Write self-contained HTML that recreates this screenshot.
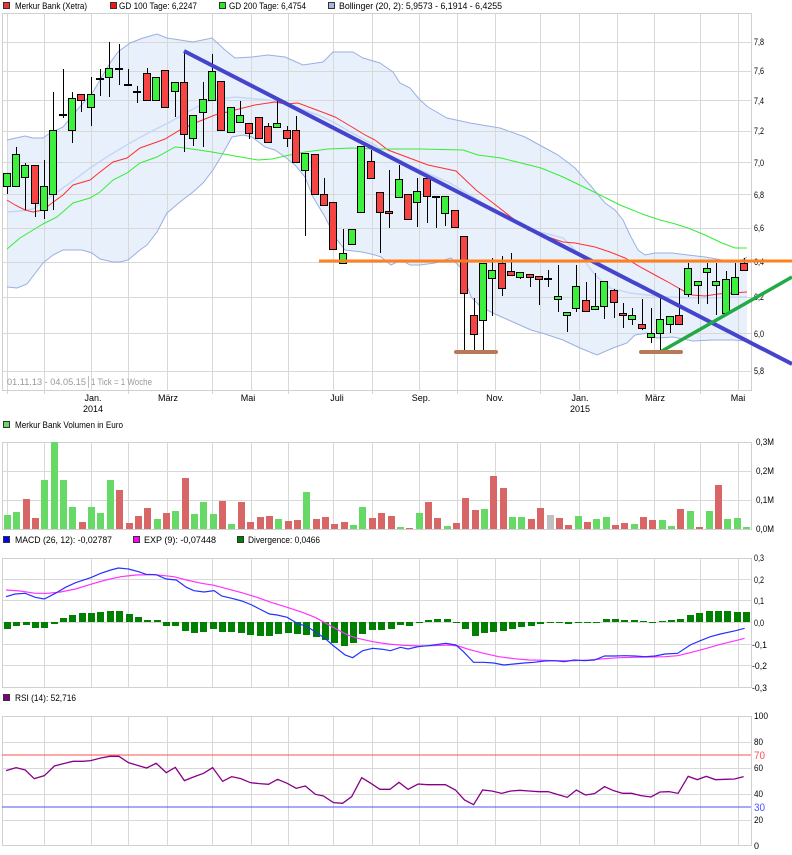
<!DOCTYPE html>
<html><head><meta charset="utf-8"><style>
html,body{margin:0;padding:0;background:#fff}
svg{display:block}
text{font-family:"Liberation Sans",sans-serif;font-size:9px;fill:#000}
.grid{stroke:#d8d8d8;stroke-width:1;fill:none}
.vg{fill:#66d966}.vr{fill:#d96666}
.cg{fill:#3ef03e;stroke:#000;stroke-width:1}
.cr{fill:#f44444;stroke:#000;stroke-width:1}
</style></head><body>
<svg width="792" height="855" viewBox="0 0 792 855" xmlns="http://www.w3.org/2000/svg">
<rect x="0" y="0" width="792" height="855" fill="#fff"/>

<!-- top legend -->
<rect x="3.5" y="2.5" width="6" height="6" fill="#ee3333" stroke="#333"/>
<text x="15" y="9" textLength="72" lengthAdjust="spacingAndGlyphs">Merkur Bank (Xetra)</text>
<rect x="110.5" y="2.5" width="6" height="6" fill="#ff1010" stroke="#333"/>
<text x="119" y="9" textLength="78" lengthAdjust="spacingAndGlyphs">GD 100 Tage: 6,2247</text>
<rect x="219.5" y="2.5" width="6" height="6" fill="#22ee22" stroke="#333"/>
<text x="229" y="9" textLength="77" lengthAdjust="spacingAndGlyphs">GD 200 Tage: 6,4754</text>
<rect x="328.5" y="2.5" width="6" height="6" fill="#a4b8e4" stroke="#333"/>
<text x="339" y="9" textLength="163" lengthAdjust="spacingAndGlyphs">Bollinger (20, 2): 5,9573 - 6,1914 - 6,4255</text>

<!-- Bollinger fill -->
<polygon fill="#e8f0fc" points="7,140 25,136 33,138 43,138 50,133 63,127 77,110 93,92 110,63 118,52 130,43 143,38 157,34 167,38 180,40 193,42 212,38 225,50 235,58 252,57 268,55 285,57 303,65 323,62 333,52 353,52 363,58 380,63 393,72 400,83 410,88 420,100 428,107 447,118 470,123 500,128 525,137 545,148 558,155 575,168 590,185 605,203 615,210 623,220 630,235 638,250 645,255 655,253 672,253 688,255 705,257 722,260 738,262 747,257 747,341 733,340 713,340 693,341 673,337 657,338 647,333 635,335 627,343 613,348 597,355 580,348 563,340 545,334 531,330 513,322 495,314 481,307 471,297 461,268 451,258 435,263 420,265 410,265 401,260 391,265 381,257 375,255 362,252 345,250 335,237 325,217 313,197 305,177 295,165 285,157 275,150 265,147 252,137 243,135 232,137 222,155 213,170 203,183 193,192 180,202 167,213 157,232 147,245 140,250 128,260 120,262 113,262 100,259 92,253 82,250 73,250 63,250 53,255 43,263 27,284 17,288 7,287"/>

<!-- main grid -->
<path class="grid" d="M7.5 13V394M44.5 13V394M91.5 13V390M128.5 13V394M167.5 13V390M212.5 13V394M251.5 13V390M288.5 13V394M333.5 13V390M372.5 13V394M419.5 13V390M457.5 13V394M495.5 13V390M540.5 13V394M579.5 13V390M617.5 13V394M654.5 13V390M700.5 13V394M738.5 13V390M2 42.5H751M2 71.5H751M2 100.5H751M2 131.5H751M2 162.5H751M2 194.5H751M2 228.5H751M2 262.5H751M2 297.5H751M2 333.5H751M2 371.5H751"/>
<rect x="2.5" y="13.5" width="749" height="377" fill="none" stroke="#d0d0d0"/>

<!-- band lines -->
<polyline fill="none" stroke="#9ab0e0" stroke-width="1" points="7,140 25,136 33,138 43,138 50,133 63,127 77,110 93,92 110,63 118,52 130,43 143,38 157,34 167,38 180,40 193,42 212,38 225,50 235,58 252,57 268,55 285,57 303,65 323,62 333,52 353,52 363,58 380,63 393,72 400,83 410,88 420,100 428,107 447,118 470,123 500,128 525,137 545,148 558,155 575,168 590,185 605,203 615,210 623,220 630,235 638,250 645,255 655,253 672,253 688,255 705,257 722,260 738,262 747,257"/>
<polyline fill="none" stroke="#9ab0e0" stroke-width="1" points="7,287 17,288 27,284 43,263 53,255 63,250 73,250 82,250 92,253 100,259 113,262 120,262 128,260 140,250 147,245 157,232 167,213 180,202 193,192 203,183 213,170 222,155 232,137 243,135 252,137 265,147 275,150 285,157 295,165 305,177 313,197 325,217 335,237 345,250 362,252 375,255 381,257 391,265 401,260 410,265 420,265 435,263 451,258 461,268 471,297 481,307 495,314 513,322 531,330 545,334 563,340 580,348 597,355 613,348 627,343 635,335 647,333 657,338 673,337 693,341 713,340 733,340 747,341"/>
<polyline fill="none" stroke="#c4d8f6" stroke-width="1.5" points="7,212 20,211 33,209 53,195 70,183 90,168 110,155 130,143 150,132 170,122 195,108 212,100 235,97 268,100 282,103 298,108 318,115 335,123 352,133 365,140 375,145 390,158 420,170 450,183 470,195 490,208 511,220 530,230 548,234 563,238 580,255 595,275 610,288 630,293 665,297 700,298 747,297"/>
<!-- GD100 -->
<polyline fill="none" stroke="#ff3030" stroke-width="1" points="7,200 15,205 25,210 33,212 43,210 52,203 63,195 73,185 90,180 100,172 113,162 127,158 140,148 157,142 165,139 180,130 195,123 215,115 235,110 255,105 275,102 285,104 298,103 322,112 335,117 352,127 365,135 375,140 388,150 428,165 456,171 476,190 493,203 511,217 528,230 548,237 563,242 575,243 595,247 610,252 625,258 642,268 655,275 668,282 682,290 692,295 705,296 718,294 732,293 747,292"/>
<!-- GD200 -->
<polyline fill="none" stroke="#33ee33" stroke-width="1" points="7,249 20,238 33,230 43,224 57,217 73,203 90,198 100,192 113,180 127,173 140,163 157,157 175,147 185,148 212,152 235,156 258,160 272,159 285,156 305,152 328,149 352,148 375,149 420,149 463,150 478,155 501,158 521,163 541,168 563,177 590,190 620,205 645,215 660,220 672,223 688,228 705,235 722,243 735,248 747,248"/>

<!-- candles -->
<g shape-rendering="crispEdges">
<path fill="none" stroke="#000" stroke-width="1" d="M7.5 173V194M16.5 147V186M25.5 163V210M35.5 165V217M44.5 160V219M53.5 92V210M63.5 69V118M72.5 92V143M81.5 94V112M91.5 77V126M100.5 69V96M109.5 42V97M119.5 44V85M128.5 69V85M137.5 86V103M147.5 68V100M156.5 77V100M165.5 70V107M175.5 82V117M184.5 51V152M193.5 115V146M203.5 82V147M212.5 54V100M221.5 81V130M231.5 107V132M240.5 101V122M249.5 123V139M259.5 117V138M268.5 123V142M277.5 101V127M287.5 126V147M296.5 116V162M305.5 153V236M315.5 154V194M324.5 178V205M333.5 202V249M343.5 229V263M352.5 229V244M361.5 146V212M371.5 150V178M380.5 192V253M389.5 170V228M399.5 165V197M408.5 194V219M417.5 178V227M427.5 178V223M436.5 197V228M445.5 196V226M455.5 210V227M464.5 236V350M474.5 298V350M483.5 263V350M492.5 258V316M502.5 256V296M511.5 253V275M520.5 272V279M530.5 274V287M539.5 277V305M548.5 270V287M558.5 265V312M567.5 312V332M576.5 265V312M586.5 282V311M595.5 273V309M604.5 281V319M614.5 289V318M623.5 303V328M632.5 308V325M642.5 299V330M651.5 308V343M660.5 298V352M670.5 316V333M679.5 288V324M688.5 263V297M698.5 281V304M707.5 263V304M716.5 263V315M726.5 271V313M735.5 263V294M744.5 258V270"/>
<g fill="#000">
<rect x="59" y="114" width="8" height="2"/><rect x="96" y="78" width="8" height="2"/><rect x="115" y="68" width="8" height="2"/><rect x="124" y="84" width="8" height="2"/><rect x="133" y="91" width="8" height="2"/><rect x="432" y="196" width="8" height="2"/><rect x="544" y="278" width="8" height="2"/>
</g>
<g class="cg">
<rect x="3.5" y="173.5" width="7" height="13"/><rect x="12.5" y="154.5" width="7" height="32"/><rect x="21.5" y="165.5" width="7" height="12"/><rect x="40.5" y="186.5" width="7" height="24"/><rect x="49.5" y="130.5" width="7" height="64"/><rect x="68.5" y="98.5" width="7" height="32"/><rect x="87.5" y="94.5" width="7" height="13"/><rect x="105.5" y="68.5" width="7" height="9"/><rect x="152.5" y="77.5" width="7" height="23"/><rect x="171.5" y="82.5" width="7" height="9"/><rect x="189.5" y="115.5" width="7" height="23"/><rect x="199.5" y="99.5" width="7" height="13"/><rect x="208.5" y="71.5" width="7" height="29"/><rect x="227.5" y="107.5" width="7" height="25"/><rect x="236.5" y="115.5" width="7" height="7"/><rect x="273.5" y="123.5" width="7" height="4"/><rect x="301.5" y="153.5" width="7" height="17"/><rect x="339.5" y="253.5" width="7" height="10"/><rect x="348.5" y="229.5" width="7" height="15"/><rect x="357.5" y="146.5" width="7" height="66"/><rect x="395.5" y="179.5" width="7" height="18"/><rect x="413.5" y="191.5" width="7" height="11"/><rect x="441.5" y="196.5" width="7" height="17"/><rect x="479.5" y="263.5" width="7" height="57"/><rect x="488.5" y="270.5" width="7" height="8"/><rect x="516.5" y="272.5" width="7" height="5"/><rect x="554.5" y="296.5" width="7" height="3"/><rect x="563.5" y="312.5" width="7" height="3"/><rect x="572.5" y="286.5" width="7" height="22"/><rect x="591.5" y="306.5" width="7" height="3"/><rect x="600.5" y="281.5" width="7" height="25"/><rect x="628.5" y="315.5" width="7" height="4"/><rect x="647.5" y="333.5" width="7" height="4"/><rect x="656.5" y="319.5" width="7" height="14"/><rect x="666.5" y="316.5" width="7" height="8"/><rect x="684.5" y="268.5" width="7" height="26"/><rect x="694.5" y="281.5" width="7" height="4"/><rect x="703.5" y="268.5" width="7" height="4"/><rect x="712.5" y="281.5" width="7" height="4"/><rect x="722.5" y="279.5" width="7" height="34"/><rect x="731.5" y="277.5" width="7" height="17"/>
</g>
<g class="cr">
<rect x="31.5" y="165.5" width="7" height="38"/><rect x="77.5" y="94.5" width="7" height="6"/><rect x="143.5" y="73.5" width="7" height="27"/><rect x="161.5" y="70.5" width="7" height="37"/><rect x="180.5" y="82.5" width="7" height="52"/><rect x="217.5" y="81.5" width="7" height="49"/><rect x="245.5" y="123.5" width="7" height="10"/><rect x="255.5" y="117.5" width="7" height="21"/><rect x="264.5" y="126.5" width="7" height="16"/><rect x="283.5" y="130.5" width="7" height="8"/><rect x="292.5" y="130.5" width="7" height="32"/><rect x="311.5" y="154.5" width="7" height="40"/><rect x="320.5" y="194.5" width="7" height="11"/><rect x="329.5" y="202.5" width="7" height="47"/><rect x="367.5" y="161.5" width="7" height="17"/><rect x="376.5" y="192.5" width="7" height="20"/><rect x="385.5" y="211.5" width="7" height="2"/><rect x="404.5" y="194.5" width="7" height="25"/><rect x="423.5" y="178.5" width="7" height="18"/><rect x="451.5" y="210.5" width="7" height="17"/><rect x="460.5" y="236.5" width="7" height="57"/><rect x="470.5" y="315.5" width="7" height="19"/><rect x="498.5" y="263.5" width="7" height="25"/><rect x="507.5" y="271.5" width="7" height="4"/><rect x="526.5" y="274.5" width="7" height="3"/><rect x="535.5" y="276.5" width="7" height="3"/><rect x="582.5" y="300.5" width="7" height="11"/><rect x="610.5" y="290.5" width="7" height="12"/><rect x="619.5" y="313.5" width="7" height="2"/><rect x="638.5" y="324.5" width="7" height="4"/><rect x="675.5" y="315.5" width="7" height="9"/><rect x="740.5" y="263.5" width="7" height="7"/>
</g>
</g>

<!-- main axis labels -->
<g>
<text x="754" y="45" textLength="10" lengthAdjust="spacingAndGlyphs">7,8</text>
<text x="754" y="74" textLength="10" lengthAdjust="spacingAndGlyphs">7,6</text>
<text x="754" y="104" textLength="10" lengthAdjust="spacingAndGlyphs">7,4</text>
<text x="754" y="134" textLength="10" lengthAdjust="spacingAndGlyphs">7,2</text>
<text x="754" y="166" textLength="10" lengthAdjust="spacingAndGlyphs">7,0</text>
<text x="754" y="198" textLength="10" lengthAdjust="spacingAndGlyphs">6,8</text>
<text x="754" y="231" textLength="10" lengthAdjust="spacingAndGlyphs">6,6</text>
<text x="754" y="265" textLength="10" lengthAdjust="spacingAndGlyphs">6,4</text>
<text x="754" y="300" textLength="10" lengthAdjust="spacingAndGlyphs">6,2</text>
<text x="754" y="337" textLength="10" lengthAdjust="spacingAndGlyphs">6,0</text>
<text x="754" y="374" textLength="10" lengthAdjust="spacingAndGlyphs">5,8</text>
</g>

<!-- trend lines -->
<line x1="184" y1="51" x2="792" y2="364" stroke="#4444cc" stroke-width="4"/>
<line x1="319" y1="261" x2="792" y2="261" stroke="#ff8020" stroke-width="3"/>
<line x1="662" y1="351" x2="792" y2="277" stroke="#22aa44" stroke-width="3.5"/>
<line x1="456" y1="352" x2="496" y2="352" stroke="#b87a56" stroke-width="4" stroke-linecap="round"/>
<line x1="641" y1="352" x2="681" y2="352" stroke="#b87a56" stroke-width="4" stroke-linecap="round"/>

<!-- info + x labels -->
<text x="7" y="385" fill="#999" style="fill:#999" textLength="79" lengthAdjust="spacingAndGlyphs">01.11.13 - 04.05.15</text>
<line x1="88.5" y1="376" x2="88.5" y2="388" stroke="#bbb"/>
<text x="91" y="385" style="fill:#999" textLength="61" lengthAdjust="spacingAndGlyphs">1 Tick = 1 Woche</text>
<g text-anchor="middle">
<text x="93" y="401">Jan.</text><text x="93" y="412">2014</text>
<text x="168" y="401">März</text>
<text x="248" y="401">Mai</text>
<text x="337" y="401">Juli</text>
<text x="421" y="401">Sep.</text>
<text x="495" y="401">Nov.</text>
<text x="580" y="401">Jan.</text><text x="580" y="412">2015</text>
<text x="655" y="401">März</text>
<text x="738" y="401">Mai</text>
</g>

<!-- volume -->
<rect x="3.5" y="421.5" width="6" height="6" fill="#66d966" stroke="#333"/>
<text x="15" y="428" textLength="108" lengthAdjust="spacingAndGlyphs">Merkur Bank Volumen in Euro</text>
<path class="grid" d="M7.5 442V529M44.5 442V529M91.5 442V529M128.5 442V529M167.5 442V529M212.5 442V529M251.5 442V529M288.5 442V529M333.5 442V529M372.5 442V529M419.5 442V529M457.5 442V529M495.5 442V529M540.5 442V529M579.5 442V529M617.5 442V529M654.5 442V529M700.5 442V529M738.5 442V529M2 471.5H751M2 500.5H751"/>
<rect x="2.5" y="442.5" width="749" height="87" fill="none" stroke="#d0d0d0"/>
<g shape-rendering="crispEdges">
<g class="vg">
<rect x="4" y="515" width="7" height="14"/><rect x="13" y="512" width="7" height="17"/><rect x="41" y="480" width="7" height="49"/><rect x="51" y="442" width="7" height="87"/><rect x="60" y="480" width="7" height="49"/><rect x="69" y="507" width="7" height="22"/><rect x="88" y="507" width="7" height="22"/><rect x="97" y="513" width="7" height="16"/><rect x="107" y="480" width="7" height="49"/><rect x="154" y="519" width="7" height="10"/><rect x="172" y="511" width="7" height="18"/><rect x="191" y="514" width="7" height="15"/><rect x="200" y="502" width="7" height="27"/><rect x="210" y="514" width="7" height="15"/><rect x="228" y="524" width="7" height="5"/><rect x="275" y="519" width="7" height="10"/><rect x="303" y="492" width="7" height="37"/><rect x="350" y="525" width="7" height="4"/><rect x="359" y="507" width="7" height="22"/><rect x="397" y="527" width="7" height="2"/><rect x="416" y="513" width="7" height="16"/><rect x="444" y="526" width="7" height="3"/><rect x="481" y="509" width="7" height="20"/><rect x="509" y="517" width="7" height="12"/><rect x="518" y="517" width="7" height="12"/><rect x="575" y="516" width="7" height="13"/><rect x="593" y="519" width="7" height="10"/><rect x="603" y="517" width="7" height="12"/><rect x="631" y="524" width="7" height="5"/><rect x="659" y="520" width="7" height="9"/><rect x="668" y="526" width="7" height="3"/><rect x="687" y="511" width="7" height="18"/><rect x="706" y="511" width="7" height="18"/><rect x="724" y="519" width="7" height="10"/><rect x="734" y="518" width="7" height="11"/><rect x="743" y="527" width="7" height="2"/>
</g>
<g class="vr">
<rect x="23" y="499" width="7" height="30"/><rect x="32" y="518" width="7" height="11"/><rect x="79" y="522" width="7" height="7"/><rect x="116" y="490" width="7" height="39"/><rect x="126" y="523" width="7" height="6"/><rect x="135" y="516" width="7" height="13"/><rect x="144" y="508" width="7" height="21"/><rect x="163" y="513" width="7" height="16"/><rect x="182" y="478" width="7" height="51"/><rect x="219" y="501" width="7" height="28"/><rect x="238" y="502" width="7" height="27"/><rect x="247" y="522" width="7" height="7"/><rect x="257" y="517" width="7" height="12"/><rect x="266" y="516" width="7" height="13"/><rect x="285" y="521" width="7" height="8"/><rect x="294" y="520" width="7" height="9"/><rect x="313" y="519" width="7" height="10"/><rect x="322" y="517" width="7" height="12"/><rect x="331" y="524" width="7" height="5"/><rect x="341" y="522" width="7" height="7"/><rect x="369" y="518" width="7" height="11"/><rect x="378" y="513" width="7" height="16"/><rect x="388" y="516" width="7" height="13"/><rect x="406" y="528" width="7" height="1"/><rect x="425" y="502" width="7" height="27"/><rect x="434" y="518" width="7" height="11"/><rect x="453" y="523" width="7" height="6"/><rect x="462" y="498" width="7" height="31"/><rect x="472" y="510" width="7" height="19"/><rect x="490" y="476" width="7" height="53"/><rect x="500" y="488" width="7" height="41"/><rect x="528" y="519" width="7" height="10"/><rect x="537" y="508" width="7" height="21"/><rect x="556" y="518" width="7" height="11"/><rect x="565" y="525" width="7" height="4"/><rect x="584" y="522" width="7" height="7"/><rect x="612" y="525" width="7" height="4"/><rect x="621" y="523" width="7" height="6"/><rect x="640" y="517" width="7" height="12"/><rect x="649" y="520" width="7" height="9"/><rect x="677" y="509" width="7" height="20"/><rect x="696" y="527" width="7" height="2"/><rect x="715" y="485" width="7" height="44"/>
</g>
<rect x="547" y="515" width="7" height="14" fill="#c0c0c0"/>
</g>
<text x="756" y="445" textLength="18" lengthAdjust="spacingAndGlyphs">0,3M</text>
<text x="756" y="474" textLength="18" lengthAdjust="spacingAndGlyphs">0,2M</text>
<text x="756" y="503" textLength="18" lengthAdjust="spacingAndGlyphs">0,1M</text>
<text x="756" y="532" textLength="18" lengthAdjust="spacingAndGlyphs">0,0M</text>

<!-- MACD -->
<rect x="3.5" y="536.5" width="6" height="6" fill="#0000ff" stroke="#333"/>
<text x="15" y="543" textLength="97" lengthAdjust="spacingAndGlyphs">MACD (26, 12): -0,02787</text>
<rect x="133.5" y="536.5" width="6" height="6" fill="#ff00ff" stroke="#333"/>
<text x="144" y="543" textLength="72" lengthAdjust="spacingAndGlyphs">EXP (9): -0,07448</text>
<rect x="237.5" y="536.5" width="6" height="6" fill="#008000" stroke="#333"/>
<text x="248" y="543" textLength="72" lengthAdjust="spacingAndGlyphs">Divergence: 0,0466</text>
<path class="grid" d="M44.5 558V687M91.5 558V687M128.5 558V687M167.5 558V687M212.5 558V687M251.5 558V687M288.5 558V687M333.5 558V687M372.5 558V687M419.5 558V687M457.5 558V687M495.5 558V687M540.5 558V687M579.5 558V687M617.5 558V687M654.5 558V687M700.5 558V687M738.5 558V687M2 579.5H751M2 600.5H751M2 622.5H751M2 644.5H751M2 665.5H751"/>
<rect x="2.5" y="558.5" width="749" height="129" fill="none" stroke="#d0d0d0"/>
<g fill="#008000" shape-rendering="crispEdges">
<rect x="4" y="622" width="7" height="7"/><rect x="13" y="622" width="7" height="4"/><rect x="23" y="622" width="7" height="3"/><rect x="32" y="622" width="7" height="6"/><rect x="41" y="622" width="7" height="6"/><rect x="51" y="622" width="7" height="2"/><rect x="60" y="618" width="7" height="4"/><rect x="69" y="615" width="7" height="7"/><rect x="79" y="613" width="7" height="9"/><rect x="88" y="613" width="7" height="9"/><rect x="97" y="612" width="7" height="10"/><rect x="107" y="611" width="7" height="11"/><rect x="116" y="611" width="7" height="11"/><rect x="126" y="614" width="7" height="8"/><rect x="135" y="617" width="7" height="5"/><rect x="144" y="620" width="7" height="2"/><rect x="154" y="620" width="7" height="2"/><rect x="163" y="622" width="7" height="4"/><rect x="172" y="622" width="7" height="4"/><rect x="182" y="622" width="7" height="9"/><rect x="191" y="622" width="7" height="11"/><rect x="200" y="622" width="7" height="10"/><rect x="210" y="622" width="7" height="7"/><rect x="219" y="622" width="7" height="10"/><rect x="228" y="622" width="7" height="10"/><rect x="238" y="622" width="7" height="11"/><rect x="247" y="622" width="7" height="13"/><rect x="257" y="622" width="7" height="14"/><rect x="266" y="622" width="7" height="14"/><rect x="275" y="622" width="7" height="12"/><rect x="285" y="622" width="7" height="11"/><rect x="294" y="622" width="7" height="12"/><rect x="303" y="622" width="7" height="13"/><rect x="313" y="622" width="7" height="15"/><rect x="322" y="622" width="7" height="18"/><rect x="331" y="622" width="7" height="21"/><rect x="341" y="622" width="7" height="24"/><rect x="350" y="622" width="7" height="21"/><rect x="359" y="622" width="7" height="12"/><rect x="369" y="622" width="7" height="8"/><rect x="378" y="622" width="7" height="8"/><rect x="388" y="622" width="7" height="7"/><rect x="397" y="622" width="7" height="3"/><rect x="406" y="622" width="7" height="4"/><rect x="416" y="622" width="7" height="1"/><rect x="425" y="620" width="7" height="2"/><rect x="434" y="619" width="7" height="3"/><rect x="444" y="619" width="7" height="3"/><rect x="453" y="622" width="7" height="1"/><rect x="462" y="622" width="7" height="7"/><rect x="472" y="622" width="7" height="14"/><rect x="481" y="622" width="7" height="11"/><rect x="490" y="622" width="7" height="10"/><rect x="500" y="622" width="7" height="9"/><rect x="509" y="622" width="7" height="7"/><rect x="518" y="622" width="7" height="5"/><rect x="528" y="622" width="7" height="4"/><rect x="537" y="622" width="7" height="2"/><rect x="547" y="622" width="7" height="1"/><rect x="556" y="622" width="7" height="1"/><rect x="565" y="622" width="7" height="2"/><rect x="575" y="622" width="7" height="1"/><rect x="584" y="622" width="7" height="1"/><rect x="593" y="622" width="7" height="1"/><rect x="603" y="619" width="7" height="3"/><rect x="612" y="619" width="7" height="3"/><rect x="621" y="620" width="7" height="2"/><rect x="631" y="620" width="7" height="2"/><rect x="640" y="621" width="7" height="1"/><rect x="649" y="622" width="7" height="1"/><rect x="659" y="621" width="7" height="1"/><rect x="668" y="620" width="7" height="2"/><rect x="677" y="619" width="7" height="3"/><rect x="687" y="615" width="7" height="7"/><rect x="696" y="613" width="7" height="9"/><rect x="706" y="611" width="7" height="11"/><rect x="715" y="611" width="7" height="11"/><rect x="724" y="611" width="7" height="11"/><rect x="734" y="612" width="7" height="10"/><rect x="743" y="612" width="7" height="10"/>
</g>
<g transform="matrix(0.5038 0 0 0.33333 0 530)" fill="none">
<polyline vector-effect="non-scaling-stroke" stroke="#ff33ff" stroke-width="1.2" points="12,180 40,183 70,190 95,190 120,186 150,177 180,163 210,150 240,140 270,135 300,134 320,136 345,140 370,150 400,160 425,166 450,176 480,188 510,202 540,218 570,232 600,247 625,262 645,278 665,295 690,315 710,325 740,335 770,342 800,346 830,348 860,347 890,345 910,348 930,358 960,370 990,380 1020,386 1050,390 1080,391 1110,392 1140,392 1170,390 1200,386 1230,383 1260,382 1290,381 1320,380 1345,377 1370,368 1400,356 1430,343 1460,332 1478,325"/>
<polyline vector-effect="non-scaling-stroke" stroke="#2233ff" stroke-width="1.2" points="12,200 30,192 50,190 70,202 88,207 110,190 130,172 150,158 180,143 200,130 220,120 235,114 255,117 275,125 290,133 310,134 330,147 350,150 370,172 385,182 405,186 425,182 440,198 460,205 480,213 500,225 515,237 535,252 550,255 570,262 590,280 610,290 625,305 645,325 660,345 685,375 700,383 720,362 740,355 760,358 775,362 795,352 810,357 830,350 850,347 870,343 885,340 905,345 920,365 940,397 960,397 980,399 1000,405 1020,402 1040,399 1060,397 1080,393 1100,392 1120,395 1140,390 1160,392 1180,390 1200,378 1220,378 1240,377 1260,378 1280,380 1300,378 1320,372 1345,370 1370,345 1390,332 1410,320 1430,312 1460,302 1478,295"/>
</g>
<text x="754" y="561" textLength="10" lengthAdjust="spacingAndGlyphs">0,3</text>
<text x="754" y="583" textLength="10" lengthAdjust="spacingAndGlyphs">0,2</text>
<text x="754" y="604" textLength="10" lengthAdjust="spacingAndGlyphs">0,1</text>
<text x="754" y="626" textLength="10" lengthAdjust="spacingAndGlyphs">0,0</text>
<text x="752" y="648" textLength="15" lengthAdjust="spacingAndGlyphs">-0,1</text>
<text x="752" y="669" textLength="15" lengthAdjust="spacingAndGlyphs">-0,2</text>
<text x="752" y="691" textLength="15" lengthAdjust="spacingAndGlyphs">-0,3</text>

<!-- RSI -->
<rect x="3.5" y="694.5" width="6" height="6" fill="#800080" stroke="#333"/>
<text x="15" y="701" textLength="61" lengthAdjust="spacingAndGlyphs">RSI (14): 52,716</text>
<path class="grid" d="M44.5 716V846M91.5 716V846M128.5 716V846M167.5 716V846M212.5 716V846M251.5 716V846M288.5 716V846M333.5 716V846M372.5 716V846M419.5 716V846M457.5 716V846M495.5 716V846M540.5 716V846M579.5 716V846M617.5 716V846M654.5 716V846M700.5 716V846M738.5 716V846M2 742.5H751M2 768.5H751M2 794.5H751M2 820.5H751"/>
<rect x="2.5" y="716.5" width="749" height="129" fill="none" stroke="#d0d0d0"/>
<line x1="2" y1="755" x2="751" y2="755" stroke="#ff5050" stroke-width="1"/>
<line x1="2" y1="807" x2="751" y2="807" stroke="#5050ff" stroke-width="1"/>
<g transform="matrix(0.5038 0 0 0.33333 0 530)" fill="none">
<polyline vector-effect="non-scaling-stroke" stroke="#880088" stroke-width="1.3" points="12,722 32,713 50,720 68,746 88,737 108,708 128,700 145,694 165,694 180,692 200,684 218,679 236,679 255,698 273,706 291,714 310,700 330,728 348,712 366,752 384,741 404,730 422,713 442,754 460,740 478,746 497,758 515,761 533,763 551,748 570,760 588,775 606,768 626,793 642,798 662,818 680,820 698,800 718,743 736,760 754,778 774,778 792,757 810,778 830,762 848,764 866,764 884,764 904,780 922,810 940,824 958,780 976,783 996,790 1014,783 1032,781 1050,783 1070,785 1088,785 1106,793 1126,802 1144,780 1162,795 1180,791 1200,770 1218,782 1236,790 1254,790 1272,797 1292,801 1310,786 1328,785 1346,790 1366,739 1384,749 1402,739 1420,749 1440,748 1458,747 1476,740"/>
</g>
<text x="754" y="719" textLength="14" lengthAdjust="spacingAndGlyphs">100</text>
<text x="754" y="745" textLength="9" lengthAdjust="spacingAndGlyphs">80</text>
<text x="754" y="759" style="fill:#ff5050;font-size:11px" textLength="11" lengthAdjust="spacingAndGlyphs">70</text>
<text x="754" y="771" textLength="9" lengthAdjust="spacingAndGlyphs">60</text>
<text x="754" y="797" textLength="9" lengthAdjust="spacingAndGlyphs">40</text>
<text x="754" y="811" style="fill:#5050ff;font-size:11px" textLength="11" lengthAdjust="spacingAndGlyphs">30</text>
<text x="754" y="823" textLength="9" lengthAdjust="spacingAndGlyphs">20</text>
<text x="754" y="849" textLength="5" lengthAdjust="spacingAndGlyphs">0</text>
</svg>
</body></html>
